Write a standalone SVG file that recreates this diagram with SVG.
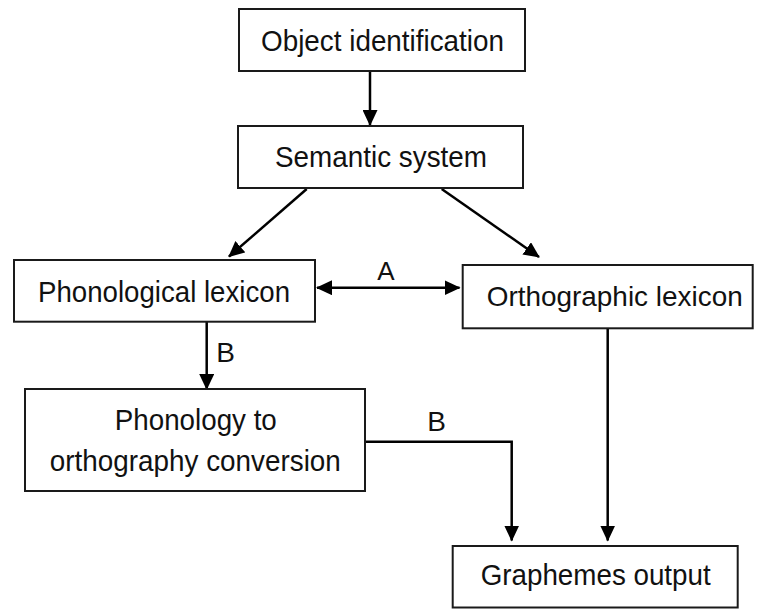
<svg xmlns="http://www.w3.org/2000/svg" width="757" height="609" viewBox="0 0 757 609">
<defs>
<marker id="ah" markerUnits="userSpaceOnUse" markerWidth="16" markerHeight="15" refX="15" refY="7.5" orient="auto-start-reverse" viewBox="0 0 16 15">
<path d="M0,0 L16,7.5 L0,15 Z" fill="#000"/>
</marker>
</defs>
<style>
.box{fill:#fff;stroke:#1a1a1a;stroke-width:2}
.t{font-family:"Liberation Sans",Arial,sans-serif;font-size:30px;fill:#111;text-anchor:middle}
.c{fill:none;stroke:#000;stroke-width:2.5}
</style>
<rect width="757" height="609" fill="#fff"/>
<g id="connectors">
<line class="c" x1="370" y1="71" x2="370" y2="125" marker-end="url(#ah)"/>
<line class="c" x1="306.7" y1="189" x2="229" y2="256.5" marker-end="url(#ah)"/>
<line class="c" x1="441.7" y1="189" x2="539" y2="257" marker-end="url(#ah)"/>
<line class="c" x1="317" y1="287.7" x2="459.5" y2="287.7" marker-start="url(#ah)" marker-end="url(#ah)"/>
<line class="c" x1="206.7" y1="322" x2="206.7" y2="389" marker-end="url(#ah)"/>
<polyline class="c" points="365,441.7 511.7,441.7 511.7,540.5" marker-end="url(#ah)"/>
<line class="c" x1="607.7" y1="328" x2="607.7" y2="540.5" marker-end="url(#ah)"/>
<text class="t" x="386" y="280" style="font-size:26px">A</text>
<text class="t" x="225.5" y="361.7" style="font-size:28px">B</text>
<text class="t" x="436.5" y="431" style="font-size:28px">B</text>
</g>
<g id="object">
<rect class="box" x="239" y="9" width="286" height="62"/>
<text class="t" x="382.5" y="51" textLength="243" lengthAdjust="spacingAndGlyphs">Object identification</text>
</g>
<g id="semantic">
<rect class="box" x="238" y="126" width="285" height="62"/>
<text class="t" x="381" y="167" textLength="212" lengthAdjust="spacingAndGlyphs">Semantic system</text>
</g>
<g id="phonological">
<rect class="box" x="14" y="260" width="301" height="61.7"/>
<text class="t" x="164" y="301.7" textLength="252" lengthAdjust="spacingAndGlyphs">Phonological lexicon</text>
</g>
<g id="orthographic">
<rect class="box" x="462.7" y="265" width="290" height="63.3"/>
<text class="t" x="614.7" y="305.5" style="font-size:28px" textLength="256" lengthAdjust="spacingAndGlyphs">Orthographic lexicon</text>
</g>
<g id="conversion">
<rect class="box" x="25" y="389" width="340" height="102"/>
<text class="t" x="195.8" y="430" textLength="162" lengthAdjust="spacingAndGlyphs">Phonology to</text>
<text class="t" x="195.3" y="470.7" textLength="291" lengthAdjust="spacingAndGlyphs">orthography conversion</text>
</g>
<g id="graphemes">
<rect class="box" x="452.7" y="546" width="285" height="61.5"/>
<text class="t" x="595.7" y="585" textLength="230" lengthAdjust="spacingAndGlyphs">Graphemes output</text>
</g>
</svg>
